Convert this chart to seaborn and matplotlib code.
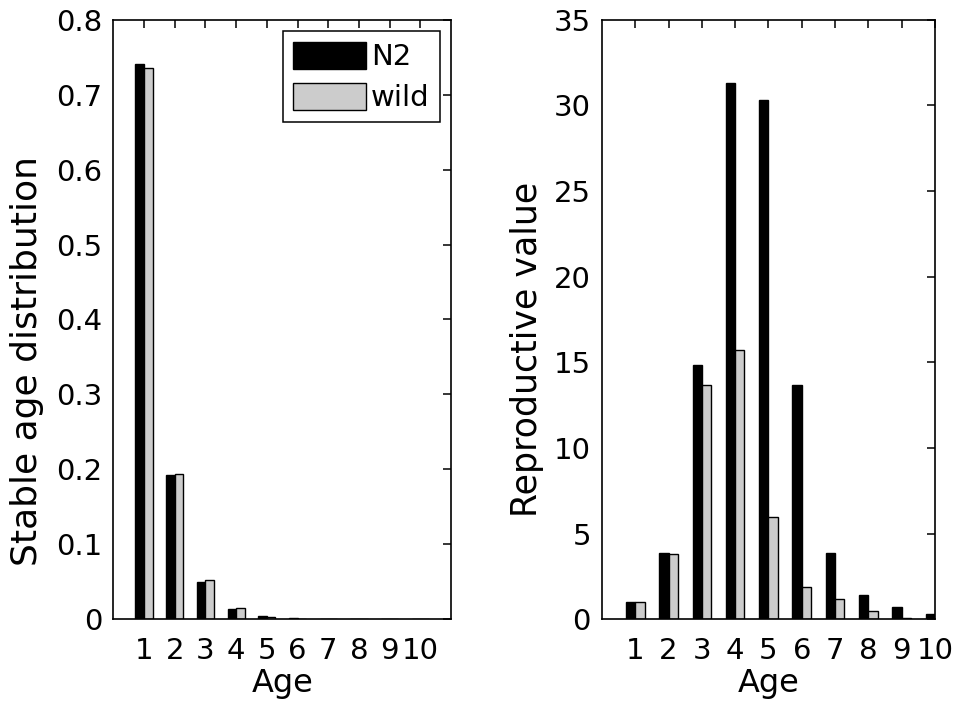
import numpy as np
import pandas as pd
import matplotlib
matplotlib.use("Agg")
import matplotlib.pyplot as plt
import seaborn as sns

# values
ages = [1, 2, 3, 4, 5, 6, 7, 8, 9, 10]
stable_n2 = [0.741, 0.192, 0.049, 0.013, 0.004, 0.001, 0.0003, 0.0001, 0.0, 0.0]
stable_wild = [0.735, 0.194, 0.052, 0.015, 0.003, 0.0005, 0.0001, 0.0, 0.0, 0.0]
repro_n2 = [1.0, 3.85, 14.85, 31.3, 30.3, 13.65, 3.85, 1.4, 0.7, 0.3]
repro_wild = [1.0, 3.8, 13.65, 15.7, 5.95, 1.9, 1.2, 0.5, 0.05, 0.0]
strains = ["N2", "wild"]
colors = ["black", "#cccccc"]

sns.set_style("white")
plt.rcParams["font.family"] = ["DejaVu Sans"]
plt.rcParams["text.color"] = "black"
plt.rcParams["axes.labelcolor"] = "black"
TICK_FS = 21
LABEL_FS = 23


def long_table(a, b):
    df = pd.DataFrame({"Age": ages * 2,
                       "val": a + b,
                       "strain": [strains[0]] * len(ages) + [strains[1]] * len(ages)})
    return df


def style_axes(ax):
    for s in ax.spines.values():
        s.set_visible(True)
        s.set_color("black")
        s.set_linewidth(1.2)
    ax.tick_params(direction="in", length=6, width=1.1, top=True, right=True,
                   labelsize=TICK_FS, colors="black")
    ax.tick_params(axis="x", pad=13)
    ax.tick_params(axis="y", pad=8)
    ax.set_xticks(ages)
    ax.set_xticklabels([str(a) for a in ages])


fig = plt.figure(figsize=(9.6, 7.06), dpi=100)
ax1 = fig.add_axes([0.118, 0.123, 0.352, 0.849])
ax2 = fig.add_axes([0.627, 0.123, 0.347, 0.849])

sns.barplot(data=long_table(stable_n2, stable_wild), x="Age", y="val", hue="strain",
            native_scale=True, width=0.56, palette=colors, edgecolor="black",
            linewidth=1.0, saturation=1, errorbar=None, ax=ax1)
ax1.set_xlim(0, 11)
ax1.set_ylim(0, 0.8)
ax1.set_yticks(np.arange(0, 0.81, 0.1))
ax1.set_yticklabels(["0", "0.1", "0.2", "0.3", "0.4", "0.5", "0.6", "0.7", "0.8"])
ax1.set_ylabel("Stable age distribution", fontsize=26)
ax1.set_xlabel("Age", fontsize=LABEL_FS, labelpad=2)
ax1.yaxis.set_label_coords(-0.205, 0.43)
style_axes(ax1)
leg = ax1.legend(loc="upper right", fontsize=TICK_FS, fancybox=False, edgecolor="black",
                 framealpha=1, handlelength=2.5, handleheight=1.05, handletextpad=0.15,
                 borderpad=0.35, labelspacing=0.4, borderaxespad=0.4)
leg.get_frame().set_linewidth(1.1)

sns.barplot(data=long_table(repro_n2, repro_wild), x="Age", y="val", hue="strain",
            native_scale=True, width=0.56, palette=colors, edgecolor="black",
            linewidth=1.0, saturation=1, errorbar=None, legend=False, ax=ax2)
ax2.set_xlim(0, 10)
ax2.set_ylim(0, 35)
ax2.set_yticks(np.arange(0, 36, 5))
ax2.set_ylabel("Reproductive value", fontsize=25)
ax2.set_xlabel("Age", fontsize=LABEL_FS, labelpad=2)
ax2.yaxis.set_label_coords(-0.175, 0.45)
style_axes(ax2)

fig.savefig("out.png", dpi=100)
